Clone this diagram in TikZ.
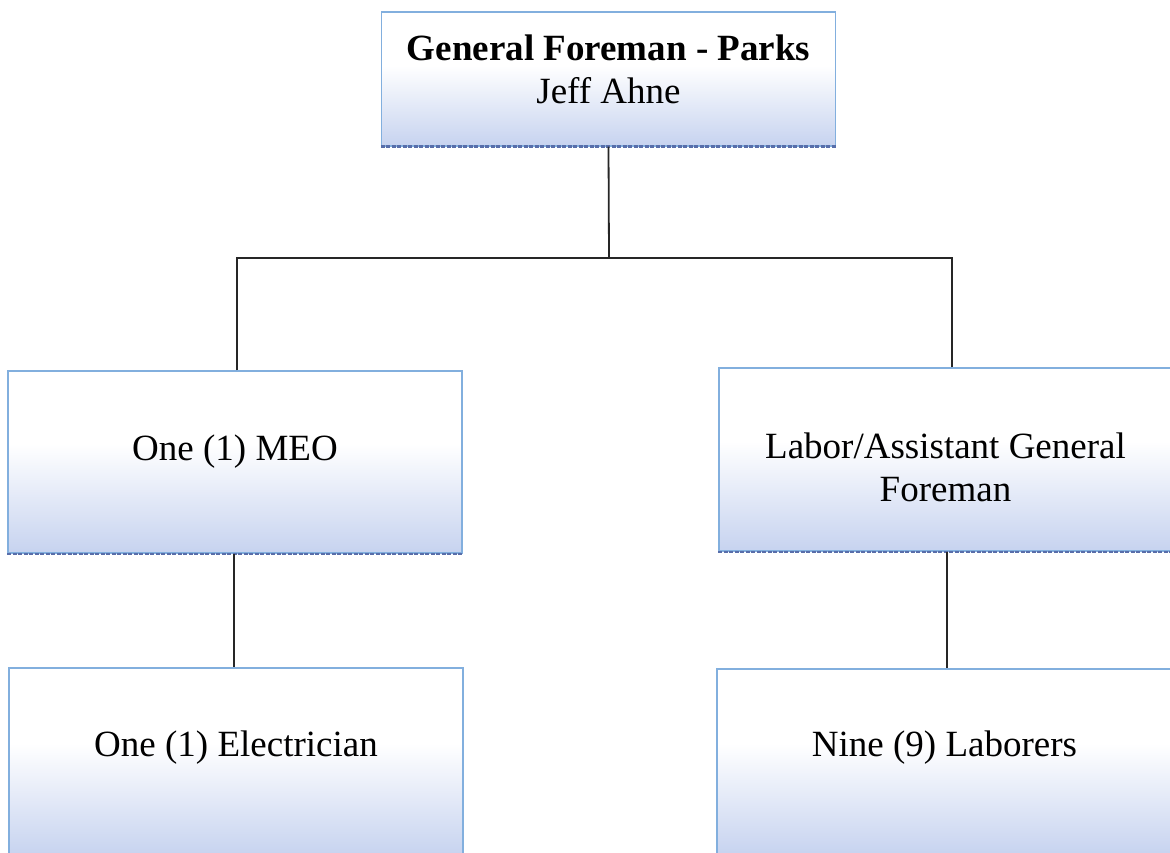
\documentclass[tikz,border=0pt]{standalone}
\usepackage{fontspec}
\setmainfont{Liberation Serif}
\usetikzlibrary{calc}
\definecolor{edgeblue}{RGB}{130,175,222}
\definecolor{shadeblue}{RGB}{186,201,236}
\definecolor{rimblue}{RGB}{88,110,170}
\pgfdeclareverticalshading{boxshade}{100bp}{color(0bp)=(shadeblue); color(25bp)=(shadeblue!82!white); color(55bp)=(white); color(100bp)=(white)}
\tikzset{
  orgbox/.style={rectangle, draw=edgeblue, line width=1.2pt, shading=boxshade,
    minimum width=454pt, inner sep=0pt},
  orgtext/.style={font=\fontsize{37}{43}\selectfont, align=center, inner sep=0pt},
  link/.style={draw=black!85, line width=1.8pt},
  rim/.style={draw=rimblue, line width=2.2pt, dash pattern=on 4pt off 1.5pt}
}
\newcommand{\rimline}[1]{\draw[rim] (#1.south west) -- (#1.south east);}
\begin{document}
\begin{tikzpicture}[x=1pt,y=-1pt]
\useasboundingbox (0,0) rectangle (1170,853);

% boxes
\node[orgbox, minimum height=134pt] (top) at (608.5,79) {};
\node[orgbox, minimum height=182pt] (meo) at (235,462) {};
\node[orgbox, minimum height=183pt, minimum width=453pt] (lab) at (945.5,459.5) {};
\node[orgbox, minimum height=188pt] (elec) at (236,762) {};
\node[orgbox, minimum height=186pt, minimum width=455pt] (lab9) at (944.5,762) {};

\rimline{top}
\rimline{meo}
\rimline{lab}
\rimline{elec}
\rimline{lab9}

% texts
\node[orgtext] (toptxt) at ([yshift=10pt]top.center) {\textbf{General Foreman - Parks}\\Jeff Ahne};
\node[orgtext] (meotxt) at ([yshift=10pt]meo.center) {One (1) MEO};
\node[orgtext] (labtxt) at ([yshift=-8pt]lab.center) {Labor/Assistant General\\Foreman};
\node[orgtext] (electxt) at ([yshift=14pt]elec.center) {One (1) Electrician};
\node[orgtext] (lab9txt) at ([yshift=14pt]lab9.center) {Nine (9) Laborers};

% connectors
\coordinate (bus) at (609,258);
\draw[link] (top.south) -- (bus);
\draw[link] ([xshift=2pt]meo.north) |- (bus);
\draw[link] ([xshift=6.5pt]lab.north) |- (bus);
\draw[link] ([xshift=-1pt]meo.south) -- ([xshift=-1pt]meo.south |- elec.north);
\draw[link] ([xshift=1.5pt]lab.south) -- ([xshift=1.5pt]lab.south |- lab9.north);
\end{tikzpicture}
\end{document}
